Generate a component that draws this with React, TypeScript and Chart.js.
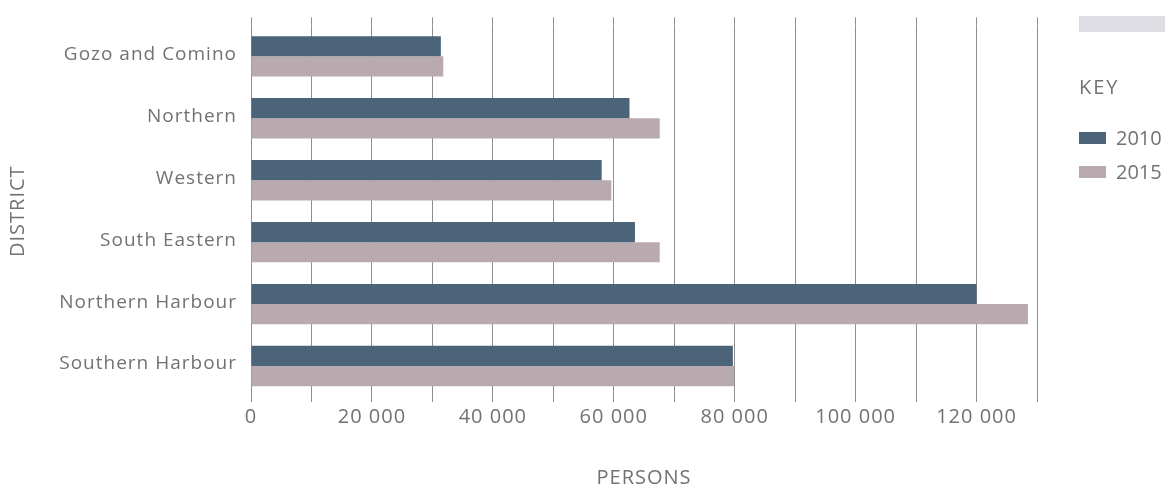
import React, { useEffect, useRef } from "react";
import { Chart, registerables } from "chart.js";

Chart.register(...registerables);

// Residents by district, 2010 and 2015
const districts = [
  "Gozo and Comino",
  "Northern",
  "Western",
  "South Eastern",
  "Northern Harbour",
  "Southern Harbour",
];
const persons2010 = [31400, 62600, 58000, 63500, 120000, 79700];
const persons2015 = [31800, 67600, 59600, 67600, 128500, 79900];
const seriesLabels = ["2010", "2015"];
const seriesColors = ["#4b6479", "#b9aab0"];

const axisMax = 130000;
const gridStep = 10000;
const labelStep = 20000;

const textColor = "#727272";
const gridColor = "#8e8e8e";
const fontFamily = "'Open Sans', 'Noto Sans', sans-serif";

const formatThousands = (v: number) =>
  String(v).replace(/\B(?=(\d{3})+(?!\d))/g, " ");

// Widens the letter spacing of every canvas label
const spacingPlugin = {
  id: "letterSpacing",
  beforeDraw(chart: any) {
    chart.ctx.letterSpacing = "1px";
  },
};

export default function App() {
  const canvasRef = useRef<HTMLCanvasElement | null>(null);

  useEffect(() => {
    if (!canvasRef.current) return;
    const chart = new Chart(canvasRef.current, {
      type: "bar",
      data: {
        labels: districts,
        datasets: [
          {
            label: seriesLabels[0],
            data: persons2010,
            backgroundColor: seriesColors[0],
            categoryPercentage: 0.652,
            barPercentage: 1,
          },
          {
            label: seriesLabels[1],
            data: persons2015,
            backgroundColor: seriesColors[1],
            categoryPercentage: 0.652,
            barPercentage: 1,
          },
        ],
      },
      options: {
        indexAxis: "y",
        animation: false,
        responsive: true,
        maintainAspectRatio: false,
        layout: { padding: { top: 14, right: 137, left: 0, bottom: 0 } },
        plugins: {
          legend: { display: false },
          tooltip: { enabled: false },
        },
        scales: {
          x: {
            type: "linear",
            position: "bottom",
            min: 0,
            max: axisMax,
            border: { display: false },
            grid: { color: gridColor, lineWidth: 1, tickLength: 5 },
            ticks: {
              stepSize: gridStep,
              autoSkip: false,
              maxRotation: 0,
              padding: 3,
              color: textColor,
              font: { family: fontFamily, size: 20 },
              callback: (v: any) =>
                Number(v) % labelStep === 0 ? formatThousands(Number(v)) : "",
            },
            title: {
              display: true,
              text: "PERSONS",
              color: textColor,
              font: { family: fontFamily, size: 20 },
              padding: { top: 0, bottom: 0 },
            },
            afterFit: (scale: any) => {
              scale.height = 93;
            },
          },
          x2: {
            type: "linear",
            position: "top",
            min: 0,
            max: axisMax,
            border: { display: false },
            grid: {
              color: gridColor,
              lineWidth: 1,
              drawOnChartArea: false,
              drawTicks: true,
              tickLength: 8,
            },
            ticks: { stepSize: gridStep, autoSkip: false, display: false },
            afterFit: (scale: any) => {
              scale.height = 8;
            },
          },
          y: {
            border: { display: false },
            grid: { display: false, drawTicks: false },
            ticks: {
              padding: 14,
              labelOffset: -2,
              color: textColor,
              font: { family: fontFamily, size: 19 },
            },
            title: {
              display: true,
              text: "DISTRICT",
              color: textColor,
              font: { family: fontFamily, size: 20 },
              padding: { top: 6, bottom: 0 },
            },
            afterFit: (scale: any) => {
              scale.width = 251;
            },
          },
        },
      },
      plugins: [spacingPlugin],
    } as any);
    return () => chart.destroy();
  }, []);

  const legendText: React.CSSProperties = {
    position: "absolute",
    fontFamily,
    fontSize: 20,
    lineHeight: "20px",
    color: textColor,
    whiteSpace: "nowrap",
  };

  return (
    <div
      style={{
        position: "absolute",
        left: 0,
        top: 0,
        width: 1174,
        height: 490,
        background: "#ffffff",
        overflow: "hidden",
      }}
    >
      <div style={{ position: "absolute", left: 0, top: 0, width: 1174, height: 490 }}>
        <canvas ref={canvasRef} />
      </div>
      <div
        style={{
          position: "absolute",
          left: 1079,
          top: 16,
          width: 86,
          height: 16,
          background: "#dddde3",
        }}
      />
      <div style={{ ...legendText, left: 1079, top: 77, letterSpacing: 2 }}>KEY</div>
      {seriesLabels.map((name, i) => (
        <React.Fragment key={name}>
          <div
            style={{
              position: "absolute",
              left: 1079,
              top: 132 + i * 34,
              width: 27,
              height: 12,
              background: seriesColors[i],
            }}
          />
          <div style={{ ...legendText, left: 1116, top: 128 + i * 34 }}>{name}</div>
        </React.Fragment>
      ))}
    </div>
  );
}
